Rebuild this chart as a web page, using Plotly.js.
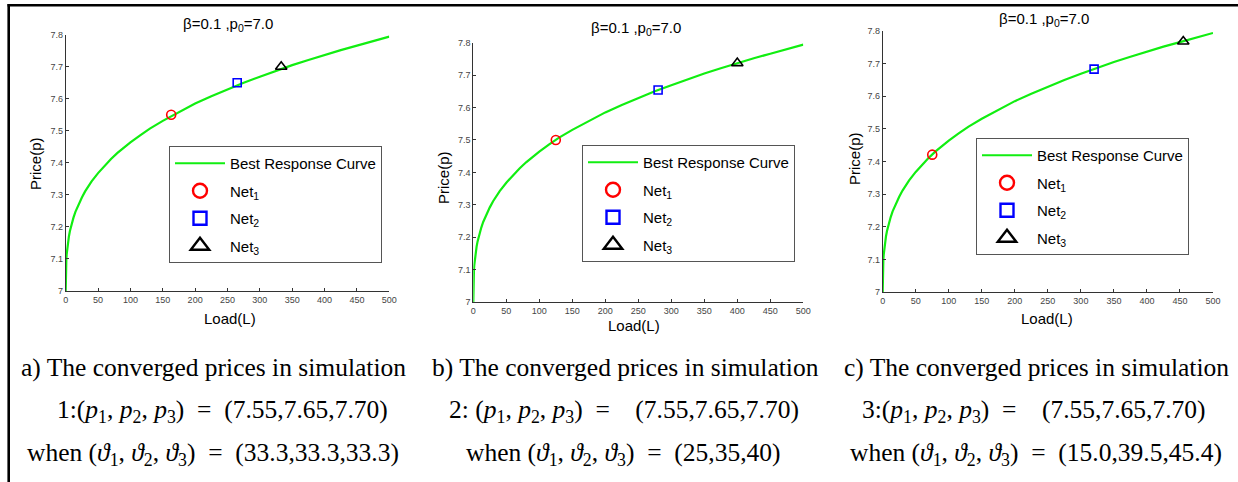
<!DOCTYPE html>
<html>
<head>
<meta charset="utf-8">
<script src="https://cdn.plot.ly/plotly-3.0.1.min.js"></script>
<style>
  html, body { margin: 0; padding: 0; background: #fff; }
  #fig { width: 1238px; height: 482px; }
</style>
</head>
<body>
<div id="fig"></div>
<script>
// Best response curve, p versus L (beta = 0.1, p0 = 7.0)
const loadGrid = [0, 0.1, 0.3, 0.6, 1, 1.5, 2, 3, 4, 5, 6.5, 8, 10, 12, 15, 20, 25, 30, 40, 50, 60, 70, 80, 90, 100,
                  115, 130, 150, 175, 200, 225, 250, 275, 300, 325, 350, 375, 400, 425, 450, 475, 500];
const priceCurve = [7.000, 7.046, 7.067, 7.084, 7.100, 7.114, 7.126, 7.144, 7.159, 7.171, 7.187, 7.200, 7.215, 7.229,
                    7.247, 7.271, 7.292, 7.311, 7.342, 7.368, 7.391, 7.412, 7.431, 7.448, 7.464,
                    7.486, 7.507, 7.531, 7.559, 7.585, 7.608, 7.630, 7.650, 7.669, 7.688, 7.705, 7.721, 7.737,
                    7.752, 7.766, 7.780, 7.794];

// Converged load / price of each network, per simulation
const netLoadsA = [163, 265, 333];
const netPricesA = [7.55, 7.65, 7.70];
const netLoadsB = [125, 280, 400];
const netPricesB = [7.50, 7.654, 7.737];
const netLoadsC = [75, 320, 455];
const netPricesC = [7.421, 7.683, 7.768];

const netNames = ['Net<sub>1</sub>', 'Net<sub>2</sub>', 'Net<sub>3</sub>'];
const curveName = 'Best Response Curve';
const panelTitle = '\u03b2=0.1 ,p<sub>0</sub>=7.0';
const xTickVals = [0, 50, 100, 150, 200, 250, 300, 350, 400, 450, 500];
const yTickVals = [7, 7.1, 7.2, 7.3, 7.4, 7.5, 7.6, 7.7, 7.8];

const EQ = '\u2002=\u2002';
const captions = [
  ['a) The converged prices in simulation',
   '1:(<i>p</i><sub>1</sub>, <i>p</i><sub>2</sub>, <i>p</i><sub>3</sub>)' + EQ + '(7.55,7.65,7.70)',
   'when (<i>\u03d1</i><sub>1</sub>, <i>\u03d1</i><sub>2</sub>, <i>\u03d1</i><sub>3</sub>)' + EQ + '(33.3,33.3,33.3)'],
  ['b) The converged prices in simulation',
   '2: (<i>p</i><sub>1</sub>, <i>p</i><sub>2</sub>, <i>p</i><sub>3</sub>)' + EQ + '\u2002(7.55,7.65,7.70)',
   'when (<i>\u03d1</i><sub>1</sub>, <i>\u03d1</i><sub>2</sub>, <i>\u03d1</i><sub>3</sub>)' + EQ + '(25,35,40)'],
  ['c) The converged prices in simulation',
   '3:(<i>p</i><sub>1</sub>, <i>p</i><sub>2</sub>, <i>p</i><sub>3</sub>)' + EQ + '\u2002(7.55,7.65,7.70)',
   'when (<i>\u03d1</i><sub>1</sub>, <i>\u03d1</i><sub>2</sub>, <i>\u03d1</i><sub>3</sub>)' + EQ + '(15.0,39.5,45.4)']
];

// ---- page geometry (pixels) ----
const W = 1238, H = 482;
const fx = px => px / W;
const fy = py => 1 - py / H;

const panels = [
  { loads: netLoadsA, prices: netPricesA, x0: 65.7, x1: 389.3, yTop: 34.7, yBot: 291,
    title: [228, 24], ytitle: [35, 164], xtitle: [230, 318], legend: [169, 146],
    caption: [[213, 367], [222, 411], [213, 454]] },
  { loads: netLoadsB, prices: netPricesB, x0: 473.3, x1: 803.3, yTop: 42.7, yBot: 302,
    title: [636, 28], ytitle: [443, 178], xtitle: [634, 325], legend: [582, 145],
    caption: [[625, 367], [624, 411], [623, 454]] },
  { loads: netLoadsC, prices: netPricesC, x0: 882.7, x1: 1213, yTop: 31, yBot: 292,
    title: [1044, 20], ytitle: [855, 159], xtitle: [1047, 318], legend: [976, 138],
    caption: [[1036, 367], [1034, 411], [1036, 454]] }
];

const markerStyles = [
  { symbol: 'circle-open', color: '#ff0000' },
  { symbol: 'square-open', color: '#0000ff' },
  { symbol: 'triangle-up-open', color: '#000000' }
];
const plotSizes = [9, 8, 10];
const legendSizes = [14, 13, 16];

const traces = [];
const layout = {
  width: W, height: H,
  margin: { l: 0, r: 0, t: 0, b: 0, pad: 0, autoexpand: false },
  paper_bgcolor: '#ffffff',
  plot_bgcolor: '#ffffff',
  showlegend: true,
  font: { family: 'Arial, Liberation Sans, sans-serif', color: '#000' },
  annotations: [],
  shapes: [
    { type: 'line', xref: 'paper', yref: 'paper', x0: fx(7.5), x1: 1, y0: fy(5.3), y1: fy(5.3),
      line: { color: '#000', width: 2.6 } },
    { type: 'line', xref: 'paper', yref: 'paper', x0: fx(8.7), x1: fx(8.7), y0: fy(4), y1: 0,
      line: { color: '#000', width: 2.6 } }
  ]
};

panels.forEach((p, i) => {
  const n = i + 1;
  const xa = n === 1 ? 'x' : 'x' + n;
  const ya = n === 1 ? 'y' : 'y' + n;
  const lg = n === 1 ? 'legend' : 'legend' + n;

  layout['xaxis' + (n === 1 ? '' : n)] = {
    domain: [fx(p.x0), fx(p.x1)], anchor: ya, range: [0, 500],
    tickvals: xTickVals, ticks: 'inside', ticklen: 3, tickcolor: '#333',
    showline: true, linecolor: '#333', linewidth: 1, showgrid: false, zeroline: false,
    tickfont: { size: 9, color: '#444' }, fixedrange: true, automargin: false
  };
  layout['yaxis' + (n === 1 ? '' : n)] = {
    domain: [fy(p.yBot), fy(p.yTop)], anchor: xa, range: [7, 7.8],
    tickvals: yTickVals, ticks: 'inside', ticklen: 3, tickcolor: '#333',
    showline: true, linecolor: '#333', linewidth: 1, showgrid: false, zeroline: false,
    tickfont: { size: 9, color: '#444' }, fixedrange: true, automargin: false
  };

  layout[lg] = {
    xref: 'paper', yref: 'paper',
    x: fx(p.legend[0]), y: fy(p.legend[1]), xanchor: 'left', yanchor: 'top',
    bgcolor: '#ffffff', bordercolor: '#555', borderwidth: 1,
    font: { size: 15, color: '#000' },
    traceorder: 'grouped', tracegroupgap: 5, itemwidth: 50
  };

  // curve
  traces.push({
    type: 'scatter', mode: 'lines', x: loadGrid, y: priceCurve,
    xaxis: xa, yaxis: ya, name: curveName, legend: lg, legendgroup: 'c' + n,
    line: { color: '#11ee11', width: 2.2 }, hoverinfo: 'skip'
  });

  // network points on the curve
  p.loads.forEach((L, k) => {
    traces.push({
      type: 'scatter', mode: 'markers', x: [L], y: [p.prices[k]],
      xaxis: xa, yaxis: ya, showlegend: false, legend: lg,
      marker: { symbol: markerStyles[k].symbol, size: plotSizes[k], color: markerStyles[k].color,
                line: { width: 1.6, color: markerStyles[k].color } }
    });
  });

  // legend entries for the networks
  netNames.forEach((nm, k) => {
    traces.push({
      type: 'scatter', mode: 'markers', x: [null], y: [null],
      xaxis: xa, yaxis: ya, name: nm, legend: lg, legendgroup: 'n' + n + k,
      marker: { symbol: markerStyles[k].symbol, size: legendSizes[k], color: markerStyles[k].color,
                line: { width: 2.4, color: markerStyles[k].color } }
    });
  });

  // panel title and axis titles
  layout.annotations.push(
    { text: panelTitle, xref: 'paper', yref: 'paper', x: fx(p.title[0]), y: fy(p.title[1]),
      xanchor: 'center', yanchor: 'middle', showarrow: false, font: { size: 15, color: '#000' } },
    { text: 'Price(p)', xref: 'paper', yref: 'paper', x: fx(p.ytitle[0]), y: fy(p.ytitle[1]),
      xanchor: 'center', yanchor: 'middle', textangle: -90, showarrow: false, font: { size: 15, color: '#000' } },
    { text: 'Load(L)', xref: 'paper', yref: 'paper', x: fx(p.xtitle[0]), y: fy(p.xtitle[1]),
      xanchor: 'center', yanchor: 'middle', showarrow: false, font: { size: 15, color: '#000' } }
  );

  // caption lines below each panel
  captions[i].forEach((line, k) => {
    layout.annotations.push({
      text: line, xref: 'paper', yref: 'paper',
      x: fx(p.caption[k][0]), y: fy(p.caption[k][1]),
      xanchor: 'center', yanchor: 'middle', showarrow: false,
      font: { family: 'Liberation Serif, Times New Roman, serif', size: 25.5, color: '#000' }
    });
  });
});

Plotly.newPlot('fig', traces, layout, { staticPlot: true, displayModeBar: false });
</script>
</body>
</html>
